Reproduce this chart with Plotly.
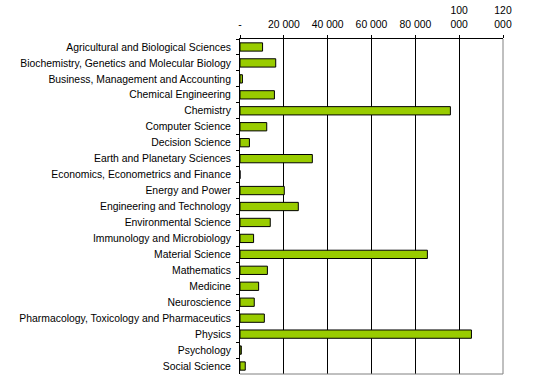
import plotly.graph_objects as go

categories = [
    "Agricultural and Biological Sciences",
    "Biochemistry, Genetics and Molecular Biology",
    "Business, Management and Accounting",
    "Chemical Engineering",
    "Chemistry",
    "Computer Science",
    "Decision Science",
    "Earth and Planetary Sciences",
    "Economics, Econometrics and Finance",
    "Energy and Power",
    "Engineering and Technology",
    "Environmental Science",
    "Immunology and Microbiology",
    "Material Science",
    "Mathematics",
    "Medicine",
    "Neuroscience",
    "Pharmacology, Toxicology and Pharmaceutics",
    "Physics",
    "Psychology",
    "Social Science",
]
values = [10300, 16300, 1100, 15700, 96000, 12200, 4300, 33000, 0, 20200,
          26600, 13800, 6200, 85500, 12500, 8500, 6500, 11100, 105600, 600, 2400]

tick_vals = [0, 20000, 40000, 60000, 80000, 100000, 120000]
tick_text = ["-", "20 000", "40 000", "60 000", "80 000", "100<br>000", "120<br>000"]

font = dict(family="Liberation Sans, Arial, sans-serif", size=10.4, color="black")

fig = go.Figure(go.Bar(
    y=categories, x=values, orientation="h",
    marker=dict(color="#99CC00", line=dict(color="black", width=1)),
))

fig.update_layout(
    width=540, height=388,
    margin=dict(l=240, r=37, t=39, b=14, autoexpand=False),
    paper_bgcolor="white", plot_bgcolor="white",
    bargap=0.48,
    showlegend=False,
    font=font,
    xaxis=dict(
        side="top", range=[0, 120000], tickvals=tick_vals, ticktext=tick_text,
        showgrid=True, gridcolor="black", gridwidth=1, zeroline=False,
        showline=True, linecolor="black", linewidth=1, automargin=False,
        ticks="outside", ticklen=3, tickcolor="black", tickfont=font,
        ticklabelstandoff=3,
    ),
    yaxis=dict(
        autorange="reversed", showgrid=False, zeroline=False,
        showline=True, linecolor="black", linewidth=1, automargin=False,
        ticks="outside", ticklen=3, tickcolor="black", tickson="boundaries",
        tickfont=font, ticklabelstandoff=6,
    ),
    shapes=[
        dict(type="line", xref="paper", yref="paper", x0=1, x1=1, y0=0, y1=1,
             line=dict(color="#808080", width=1), layer="above"),
        dict(type="line", xref="paper", yref="paper", x0=0, x1=1, y0=0, y1=0,
             line=dict(color="#808080", width=1), layer="above"),
    ],
)

fig.write_html(
    "out.html",
    config={"displayModeBar": False},
    post_script="document.body.style.margin='0';document.body.style.overflow='hidden';",
)
